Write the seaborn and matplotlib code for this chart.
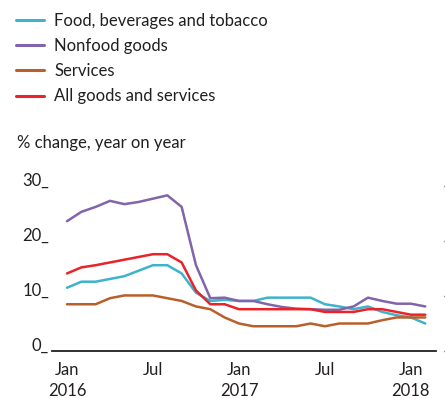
import matplotlib
matplotlib.use("Agg")
import matplotlib.pyplot as plt
import matplotlib.transforms as mtransforms
import seaborn as sns
import pandas as pd

months = ["2016-01", "2016-02", "2016-03", "2016-04", "2016-05", "2016-06",
          "2016-07", "2016-08", "2016-09", "2016-10", "2016-11", "2016-12",
          "2017-01", "2017-02", "2017-03", "2017-04", "2017-05", "2017-06",
          "2017-07", "2017-08", "2017-09", "2017-10", "2017-11", "2017-12",
          "2018-01", "2018-02"]

food = [11.5, 12.6, 12.6, 13.1, 13.6, 14.6, 15.6, 15.6, 14.1, 10.6, 9.1, 9.3,
        9.1, 9.1, 9.7, 9.7, 9.7, 9.7, 8.5, 8.1, 7.6, 8.1, 7.1, 6.5, 6.1, 5.0]
nonfood = [23.6, 25.3, 26.2, 27.3, 26.7, 27.1, 27.7, 28.3, 26.2, 15.6, 9.6, 9.7,
           9.1, 9.1, 8.5, 8.0, 7.7, 7.6, 7.5, 7.5, 8.1, 9.7, 9.1, 8.6, 8.6, 8.1]
services = [8.5, 8.5, 8.5, 9.6, 10.1, 10.1, 10.1, 9.6, 9.1, 8.1, 7.6, 6.1,
            5.0, 4.5, 4.5, 4.5, 4.5, 5.0, 4.5, 5.0, 5.0, 5.0, 5.6, 6.1, 6.1, 6.1]
all_goods = [14.1, 15.2, 15.6, 16.1, 16.6, 17.1, 17.6, 17.6, 16.1, 11.0, 8.5, 8.5,
             7.6, 7.6, 7.6, 7.6, 7.6, 7.6, 7.1, 7.1, 7.1, 7.6, 7.6, 7.1, 6.6, 6.6]

series_names = ["Food, beverages and tobacco", "Nonfood goods", "Services",
                "All goods and services"]
colors = ["#3db3cc", "#8164a9", "#b95f2a", "#ea2229"]

xtick_months = ["2016-01", "2016-07", "2017-01", "2017-07", "2018-01"]
xtick_labels = ["Jan\n2016", "Jul", "Jan\n2017", "Jul", "Jan\n2018"]
yticks = [0, 10, 20, 30]

rows = []
for name, vals in zip(series_names, [food, nonfood, services, all_goods]):
    for i, (m, v) in enumerate(zip(months, vals)):
        rows.append({"idx": i, "month": m, "series": name, "value": v})
df = pd.DataFrame(rows)

sns.set_theme(style="white")
plt.rcParams["font.family"] = ["Lato", "DejaVu Sans"]
text_color = "#231f20"
FS = 12

fig = plt.figure(figsize=(4.45, 3.98), dpi=100)
ax = fig.add_axes([52 / 445, 1 - 351 / 398, (436 - 52) / 445, (351 - 186) / 398])

sns.lineplot(data=df, x="idx", y="value", hue="series", hue_order=series_names,
             palette=colors, linewidth=1.8, ax=ax, legend=True)

ax.set_xlim((52 - 67) / 14.33, (436 - 67) / 14.33)
ax.set_ylim(0, 30)
for line in ax.lines:
    line.set_clip_on(False)

ax.set_xlabel("")
ax.set_ylabel("")
xt = [months.index(m) for m in xtick_months]
ax.set_xticks(xt)
ax.set_xticklabels(xtick_labels, fontsize=FS, color=text_color, linespacing=1.35)
ax.set_yticks(yticks)
ax.set_yticklabels([])

ax.tick_params(axis="x", length=0, pad=8)
ax.tick_params(axis="y", left=False, right=True, length=3, width=1,
               color=text_color, labelleft=False, labelright=False)

trans = mtransforms.blended_transform_factory(fig.transFigure, ax.transData)
for v in yticks:
    ax.text(49 / 445, v, f"{v}_", transform=trans, ha="right", va="baseline",
            fontsize=FS, color=text_color)

for s in ["top", "left"]:
    ax.spines[s].set_visible(False)
ax.spines["right"].set_position(("outward", 6))
ax.spines["right"].set_color("none")
ax.spines["bottom"].set_color(text_color)
ax.spines["bottom"].set_linewidth(1.3)

handles, labels = ax.get_legend_handles_labels()
ax.get_legend().remove()
leg = fig.legend(handles, labels, loc="upper left",
                 bbox_to_anchor=(16 / 445, 1 - 13 / 398), frameon=False,
                 fontsize=FS, handlelength=1.65, handletextpad=0.65,
                 labelspacing=0.55, borderpad=0, borderaxespad=0)
for t in leg.get_texts():
    t.set_color(text_color)
for h in leg.get_lines():
    h.set_linewidth(2.2)

fig.text(17 / 445, 1 - 143 / 398, "% change, year on year", fontsize=FS,
         color=text_color, va="center", ha="left")

fig.savefig("out.png", dpi=100)
